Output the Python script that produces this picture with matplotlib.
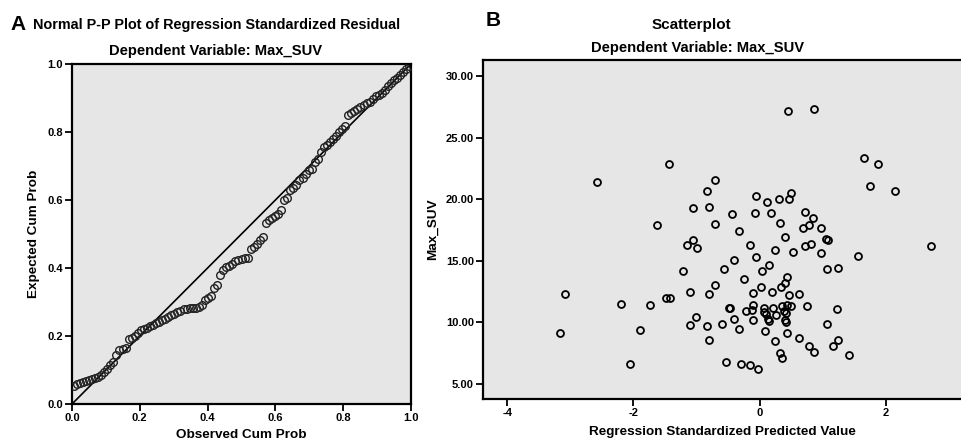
import matplotlib.pyplot as plt

plt.rcParams['font.family'] = ['Liberation Sans', 'DejaVu Sans']
plt.rcParams['font.weight'] = 'bold'
plt.rcParams['axes.unicode_minus'] = False

# --- panel A: normal P-P plot ---
observed_cum = [0.005, 0.014, 0.023, 0.032, 0.041, 0.050, 0.059, 0.068, 0.077, 0.086,
                0.095, 0.104, 0.113, 0.122, 0.131, 0.140, 0.149, 0.158, 0.167, 0.176,
                0.185, 0.194, 0.203, 0.212, 0.221, 0.230, 0.239, 0.248, 0.257, 0.266,
                0.275, 0.284, 0.293, 0.302, 0.311, 0.320, 0.329, 0.338, 0.347, 0.356,
                0.365, 0.374, 0.383, 0.392, 0.401, 0.410, 0.419, 0.428, 0.437, 0.446,
                0.455, 0.464, 0.473, 0.482, 0.491, 0.500, 0.509, 0.518, 0.527, 0.536,
                0.545, 0.554, 0.563, 0.572, 0.581, 0.590, 0.599, 0.608, 0.617, 0.626,
                0.635, 0.644, 0.653, 0.662, 0.671, 0.680, 0.689, 0.698, 0.707, 0.716,
                0.725, 0.734, 0.743, 0.752, 0.761, 0.770, 0.779, 0.788, 0.797, 0.806,
                0.815, 0.824, 0.833, 0.842, 0.851, 0.860, 0.869, 0.878, 0.887, 0.896,
                0.905, 0.914, 0.923, 0.932, 0.941, 0.950, 0.959, 0.968, 0.977, 0.986,
                0.995]
expected_cum = [0.053, 0.058, 0.062, 0.066, 0.069, 0.072, 0.074, 0.077, 0.080, 0.085,
                0.095, 0.104, 0.115, 0.125, 0.145, 0.158, 0.163, 0.165, 0.192, 0.195,
                0.200, 0.208, 0.218, 0.222, 0.225, 0.228, 0.232, 0.238, 0.242, 0.246,
                0.250, 0.256, 0.262, 0.266, 0.270, 0.275, 0.278, 0.280, 0.281, 0.282,
                0.283, 0.285, 0.292, 0.305, 0.312, 0.318, 0.340, 0.350, 0.378, 0.395,
                0.402, 0.405, 0.412, 0.420, 0.424, 0.426, 0.428, 0.430, 0.455, 0.462,
                0.470, 0.482, 0.490, 0.532, 0.540, 0.546, 0.552, 0.560, 0.572, 0.600,
                0.605, 0.628, 0.636, 0.645, 0.660, 0.665, 0.675, 0.688, 0.692, 0.712,
                0.722, 0.740, 0.757, 0.762, 0.770, 0.780, 0.788, 0.800, 0.810, 0.818,
                0.850, 0.856, 0.862, 0.868, 0.874, 0.880, 0.884, 0.888, 0.898, 0.905,
                0.908, 0.915, 0.925, 0.935, 0.945, 0.952, 0.960, 0.968, 0.976, 0.985,
                0.995]
pp_ticks = [0.0, 0.2, 0.4, 0.6, 0.8, 1.0]

# --- panel B: scatterplot of predicted value vs Max_SUV ---
pred_value = [0.45, 0.86, 1.65, 1.87, -1.44, -2.57, -0.71, 1.75, 2.15, -0.84,
              -0.06, 0.50, 0.12, 0.30, 0.47, -1.06, -0.81, -0.43, -0.08, 0.18,
              0.72, 0.85, -1.63, -0.71, 0.33, 0.69, 0.78, 0.97, -0.33, 0.40,
              -1.05, -1.15, -0.99, -0.16, 0.24, 0.53, 0.72, 0.82, 1.06, 1.08,
              0.97, 2.72, -0.06, -0.41, 1.56, 0.15, 0.04, -0.57, -1.21, 1.07,
              1.25, -0.25, 0.43, 0.41, 0.34, 0.02, -0.71, -1.11, -0.81, -0.11,
              0.19, 0.46, 0.62, -3.08, -1.49, -1.42, -2.20, -1.74, -0.49, -0.47,
              -0.10, 0.07, 0.22, 0.35, 0.44, 0.50, 0.75, 1.23, -0.21, -0.12,
              0.07, 0.10, 0.26, 0.39, 0.42, -1.01, -0.40, -0.10, 0.13, 0.15,
              0.41, 0.42, -1.11, -0.84, -0.59, -0.33, 1.07, -3.17, -1.89, 0.09,
              0.43, -0.80, 0.24, 0.62, 1.24, 0.78, 1.17, 0.86, 1.42, 0.33,
              0.36, -2.05, -0.53, -0.29, -0.15, -0.02]
max_suv = [27.17, 27.30, 23.39, 22.86, 22.90, 21.40, 21.60, 21.05, 20.70, 20.70,
           20.30, 20.50, 19.80, 20.00, 20.05, 19.30, 19.40, 18.80, 18.90, 18.90,
           19.00, 18.45, 17.90, 18.00, 18.05, 17.70, 17.90, 17.65, 17.40, 16.90,
           16.70, 16.30, 16.05, 16.30, 15.90, 15.70, 16.20, 16.35, 16.75, 16.70,
           15.60, 16.20, 15.30, 15.10, 15.40, 14.70, 14.20, 14.30, 14.20, 14.35,
           14.40, 13.50, 13.65, 13.20, 12.90, 12.90, 13.00, 12.50, 12.30, 12.40,
           12.50, 12.20, 12.30, 12.30, 11.96, 11.96, 11.50, 11.40, 11.20, 11.20,
           11.40, 11.15, 11.20, 11.30, 11.40, 11.30, 11.35, 11.10, 10.90, 11.00,
           10.85, 10.70, 10.60, 10.90, 10.80, 10.40, 10.30, 10.20, 10.30, 10.10,
           10.20, 10.00, 9.80, 9.70, 9.90, 9.50, 9.85, 9.15, 9.40, 9.30,
           9.10, 8.60, 8.50, 8.70, 8.60, 8.10, 8.10, 7.60, 7.35, 7.50,
           7.10, 6.60, 6.80, 6.60, 6.55, 6.20]
pred_ticks = [-4, -2, 0, 2]
suv_ticks = [5, 10, 15, 20, 25, 30]

W, H = 961, 443
fig = plt.figure(figsize=(W / 100, H / 100), dpi=100)
bg = '#e6e6e6'


def box(x0, y0, x1, y1):
    return [x0 / W, 1 - y1 / H, (x1 - x0) / W, (y1 - y0) / H]


def style(ax):
    ax.set_facecolor(bg)
    for s in ax.spines.values():
        s.set_linewidth(1.6)
        s.set_color('black')
    ax.tick_params(direction='out', length=5, width=1.3, labelsize=8, pad=1.5, colors='black')
    for lab in ax.get_xticklabels() + ax.get_yticklabels():
        lab.set_fontweight('bold')


# panel A
ax1 = fig.add_axes(box(72, 64, 411, 404))
ax1.plot([0, 1], [0, 1], color='black', lw=1.2, zorder=2)
ax1.plot(observed_cum, expected_cum, 'o', mfc='none', mec='#222222', mew=1.0, ms=5.5, zorder=3)
ax1.set_xlim(0, 1)
ax1.set_ylim(0, 1)
ax1.set_xticks(pp_ticks)
ax1.set_yticks(pp_ticks)
ax1.set_xticklabels(['%.1f' % t for t in pp_ticks])
ax1.set_yticklabels(['%.1f' % t for t in pp_ticks])
style(ax1)
ax1.set_xlabel('Observed Cum Prob', fontsize=9.7, fontweight='bold', labelpad=4)
ax1.set_ylabel('Expected Cum Prob', fontsize=9.7, fontweight='bold', labelpad=5)

# panel B
ax2 = fig.add_axes(box(483, 60, 961, 399))
ax2.plot(pred_value, max_suv, 'o', mfc='none', mec='black', mew=1.3, ms=5, zorder=3)
ax2.set_xlim(-4.385, 3.193)
ax2.set_ylim(3.78, 31.31)
ax2.set_xticks(pred_ticks)
ax2.set_yticks(suv_ticks)
ax2.set_yticklabels(['%.2f' % t for t in suv_ticks])
style(ax2)
ax2.spines['right'].set_visible(False)
ax2.set_xlabel('Regression Standardized Predicted Value', fontsize=9.7, fontweight='bold', labelpad=6)
ax2.set_ylabel('Max_SUV', fontsize=9.7, fontweight='bold', labelpad=5)

# titles
fig.text(10 / W, 1 - 25 / H, 'A', fontsize=15, fontweight='bold', va='center')
fig.text(33 / W, 1 - 25 / H, 'Normal P-P Plot of Regression Standardized Residual',
         fontsize=10.4, fontweight='bold', va='center')
fig.text(216 / W, 1 - 51 / H, 'Dependent Variable: Max_SUV', fontsize=10.6,
         fontweight='bold', ha='center', va='center')
fig.text(486 / W, 1 - 20 / H, 'B', fontsize=15, fontweight='bold', va='center')
fig.text(691 / W, 1 - 25 / H, 'Scatterplot', fontsize=11, fontweight='bold',
         ha='center', va='center')
fig.text(698 / W, 1 - 48 / H, 'Dependent Variable: Max_SUV', fontsize=10.6,
         fontweight='bold', ha='center', va='center')

fig.savefig('out.png', dpi=100, facecolor='white')
